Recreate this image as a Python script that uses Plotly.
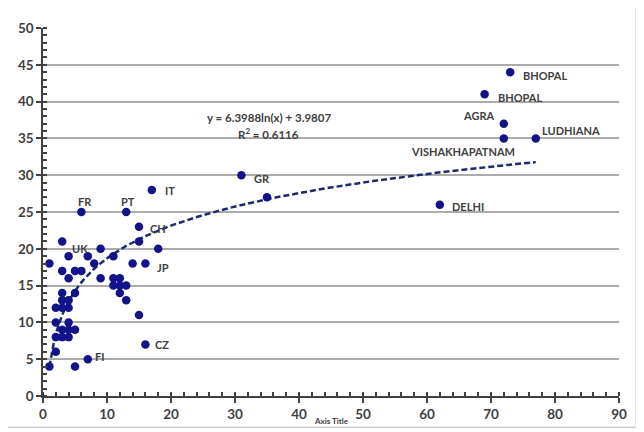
import numpy as np
import plotly.graph_objects as go

# ---- data ----
# unlabeled points
pts_x = [1, 1, 2, 2, 2, 2, 3, 3, 3, 3, 3, 3, 4, 4, 4, 4, 4, 4, 4, 5, 5, 5, 5, 6,
         7, 8, 9, 9, 11, 11, 11, 12, 12, 12, 13, 13, 14, 15, 15, 18, 35]
pts_y = [4, 18, 12, 10, 8, 6, 17, 14, 13, 12, 9, 8, 19, 16, 13, 12, 10, 9, 8, 17, 14, 9, 4, 17,
         19, 18, 20, 16, 19, 16, 15, 16, 15, 14, 15, 13, 18, 21, 11, 20, 27]

# labeled points
lab_names = ["BHOPAL", "BHOPAL", "AGRA", "VISHAKHAPATNAM", "LUDHIANA", "DELHI",
             "GR", "IT", "PT", "FR", "CH", "UK", "JP", "CZ", "FI"]
lab_x = [73, 69, 72, 72, 77, 62, 31, 17, 13, 6, 15, 3, 16, 16, 7]
lab_y = [44, 41, 37, 35, 35, 26, 30, 28, 25, 25, 23, 21, 18, 7, 5]

# trendline coefficients (as printed on chart)
coef_a = 6.3988
coef_b = 3.9807
r_squared = 0.6116

x_ticks = list(range(0, 91, 10))
y_ticks = list(range(0, 51, 5))

# ---- styles ----
DOT = "#12128a"
TXT = "#404040"
FONT = "Lato"

all_x = pts_x + lab_x
all_y = pts_y + lab_y

fig = go.Figure()

# trendline through library scales
tx = np.linspace(min(all_x), max(all_x), 200)
ty = coef_a * np.log(tx) + coef_b
fig.add_trace(go.Scatter(x=tx, y=ty, mode="lines",
                         line=dict(color="#1c2a6e", width=2.5, dash="6px,3px"),
                         hoverinfo="skip", showlegend=False))

fig.add_trace(go.Scatter(x=all_x, y=all_y, mode="markers",
                         marker=dict(color=DOT, size=8.5, line=dict(width=0)),
                         cliponaxis=False, showlegend=False))

# label placements (xanchor, xshift, yshift)
label_style = {
    0: ("left", 11, -3),
    1: ("left", 11, -3),
    2: ("right", -8, 8),
    3: ("right", 13, -13),
    4: ("left", 4, 8),
    5: ("left", 10, -2),
    6: ("left", 11, -3),
    7: ("left", 11, -1),
    8: ("center", 2, 11),
    9: ("center", 4, 11),
    10: ("left", 9, -2),
    11: ("left", 8, -7),
    12: ("left", 10, -4),
    13: ("left", 8, 0),
    14: ("left", 5, 3),
}

annotations = []
for i, name in enumerate(lab_names):
    xa, xs, ys = label_style[i]
    annotations.append(dict(x=lab_x[i], y=lab_y[i], text="<b>%s</b>" % name,
                            showarrow=False, xanchor=xa, yanchor="middle",
                            xshift=xs, yshift=ys,
                            font=dict(family=FONT, size=11, color=TXT)))

annotations.append(dict(x=35.3, y=37.9, text="<b>y = %.4fln(x) + %.4f</b>" % (coef_a, coef_b),
                        showarrow=False, xanchor="center", yanchor="middle",
                        font=dict(family=FONT, size=11.5, color=TXT)))
annotations.append(dict(x=35.3, y=35.7, text="<b>R<sup>2</sup> = %.4f</b>" % r_squared,
                        showarrow=False, xanchor="center", yanchor="middle",
                        font=dict(family=FONT, size=11.5, color=TXT)))
annotations.append(dict(x=0.5, y=-0.069, xref="paper", yref="paper", text="<b>Axis Title</b>",
                        showarrow=False, xanchor="center", yanchor="middle",
                        font=dict(family=FONT, size=8, color=TXT)))

tickfont = dict(family=FONT, size=13.5, color=TXT, weight="bold")

fig.update_layout(
    width=636, height=424,
    margin=dict(l=35, r=25, t=20, b=36, autoexpand=False),
    paper_bgcolor="white", plot_bgcolor="white",
    annotations=annotations,
    shapes=[dict(type="rect", xref="paper", yref="paper",
                 x0=-0.068, x1=1.03, y0=-0.085, y1=1.058,
                 line=dict(color="#cfcfcf", width=1.5))],
    xaxis=dict(range=[0, 90], tickvals=x_ticks, showgrid=False, zeroline=False,
               showline=True, linecolor="#404040", linewidth=1.5, automargin=False,
               ticks="outside", ticklen=5, tickcolor="#404040", tickwidth=1.5,
               minor=dict(dtick=2, ticks="inside", ticklen=4, tickcolor="#404040", showgrid=False),
               tickfont=tickfont),
    yaxis=dict(range=[0, 50], tickvals=y_ticks, showgrid=True, gridcolor="#ababab", gridwidth=1.5,
               zeroline=False, automargin=False,
               showline=True, linecolor="#404040", linewidth=1.5,
               ticks="outside", ticklen=5, tickcolor="#404040", tickwidth=1.5,
               minor=dict(dtick=1, ticks="inside", ticklen=4, tickcolor="#404040", showgrid=False),
               tickfont=tickfont),
)

fig.write_html("out.html")
